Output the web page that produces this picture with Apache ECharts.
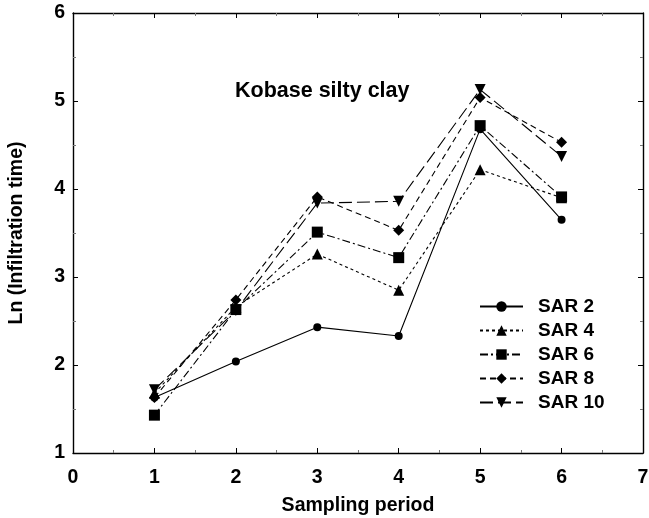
<!DOCTYPE html>
<html>
<head>
<meta charset="utf-8">
<title>Kobase silty clay</title>
<script src="https://cdn.jsdelivr.net/npm/echarts@6/dist/echarts.min.js"></script>
<style>
  html, body { margin: 0; padding: 0; background: #fff; }
  #chart { width: 649px; height: 518px; }
</style>
</head>
<body>
<div id="chart"></div>
<script>
// Sampling periods and Ln(infiltration time) for each SAR level
const periods = [1, 2, 3, 4, 5, 6];
const sar2  = [1.63, 2.04, 2.43, 2.33, 4.68, 3.65];
const sar4  = [1.68, 2.66, 3.26, 2.85, 4.22, 3.90];
const sar6  = [1.43, 2.63, 3.51, 3.22, 4.72, 3.91];
const sar8  = [1.63, 2.74, 3.91, 3.53, 5.04, 4.53];
const sar10 = [1.72, 2.62, 3.84, 3.86, 5.13, 4.37];

const seriesNames = ['SAR 2', 'SAR 4', 'SAR 6', 'SAR 8', 'SAR 10'];
const xTicks = { min: 0, max: 7, interval: 1 };
const yTicks = { min: 1, max: 6, interval: 1 };

const FONT = 'Liberation Sans, Arial, Helvetica, sans-serif';

const pairs = vals => periods.map((p, i) => [p, vals[i]]);

function frameAxis(base, pos, showLabels, labelExtra) {
  return Object.assign({
    type: 'value',
    position: pos,
    axisLine: { show: true, onZero: false, lineStyle: { color: '#000', width: 1.4 } },
    axisTick: { show: true, inside: true, length: 5, lineStyle: { color: '#000', width: 1 } },
    minorTick: { show: true, splitNumber: 2, length: 3, lineStyle: { color: '#777', width: 1 } },
    splitLine: { show: false },
    axisLabel: Object.assign({
      show: showLabels,
      fontFamily: FONT, fontWeight: 'bold', fontSize: 19.5, color: '#000'
    }, labelExtra || {})
  }, base);
}

function lineSeries(name, vals, symbol, size, dash, rotate) {
  return {
    name: name,
    type: 'line',
    data: pairs(vals),
    symbol: symbol,
    symbolSize: size,
    symbolRotate: rotate || 0,
    showAllSymbol: true,
    z: 3,
    itemStyle: { color: '#000', borderWidth: 0 },
    lineStyle: { color: '#000', width: 1.1, type: dash },
    emphasis: { disabled: true },
    animation: false
  };
}

const chart = echarts.init(document.getElementById('chart'), null, { renderer: 'canvas' });

chart.setOption({
  backgroundColor: '#fff',
  animation: false,
  title: {
    text: 'Kobase silty clay',
    left: 235,
    top: 80,
    padding: 0,
    textStyle: { fontFamily: FONT, fontWeight: 'bold', fontSize: 21.5, color: '#000' }
  },
  grid: {
    left: 73, right: 6, top: 13, bottom: 65,
    containLabel: false,
    outerBoundsMode: 'none'
  },
  legend: {
    orient: 'vertical',
    left: 479,
    top: 297,
    padding: 0,
    itemWidth: 43,
    itemHeight: 13,
    itemGap: 5,
    data: seriesNames,
    textStyle: {
      fontFamily: FONT, fontWeight: 'bold', fontSize: 19, color: '#000',
      padding: [0, 0, 0, 10]
    },
    selectedMode: false
  },
  xAxis: [
    frameAxis(Object.assign({
      name: 'Sampling period',
      nameLocation: 'middle',
      nameGap: 43,
      nameTextStyle: { fontFamily: FONT, fontWeight: 'bold', fontSize: 19.5, color: '#000' }
    }, xTicks), 'bottom', true, { margin: 15 }),
    frameAxis(Object.assign({}, xTicks), 'top', false)
  ],
  yAxis: [
    frameAxis(Object.assign({
      name: 'Ln (Infiltration time)',
      nameLocation: 'middle',
      nameGap: 46,
      nameTextStyle: { fontFamily: FONT, fontWeight: 'bold', fontSize: 19.5, color: '#000' }
    }, yTicks), 'left', true, { margin: 8, padding: [5, 0, 0, 0] }),
    frameAxis(Object.assign({}, yTicks), 'right', false)
  ],
  series: [
    lineSeries('SAR 2',  sar2,  'circle',   8,  'solid'),
    lineSeries('SAR 4',  sar4,  'triangle', 11, [3, 3]),
    lineSeries('SAR 6',  sar6,  'rect',     11, [8, 3, 2, 3]),
    lineSeries('SAR 8',  sar8,  'diamond',  11, [6, 4]),
    lineSeries('SAR 10', sar10, 'triangle', 11, [13, 5], 180)
  ]
});
</script>
</body>
</html>
